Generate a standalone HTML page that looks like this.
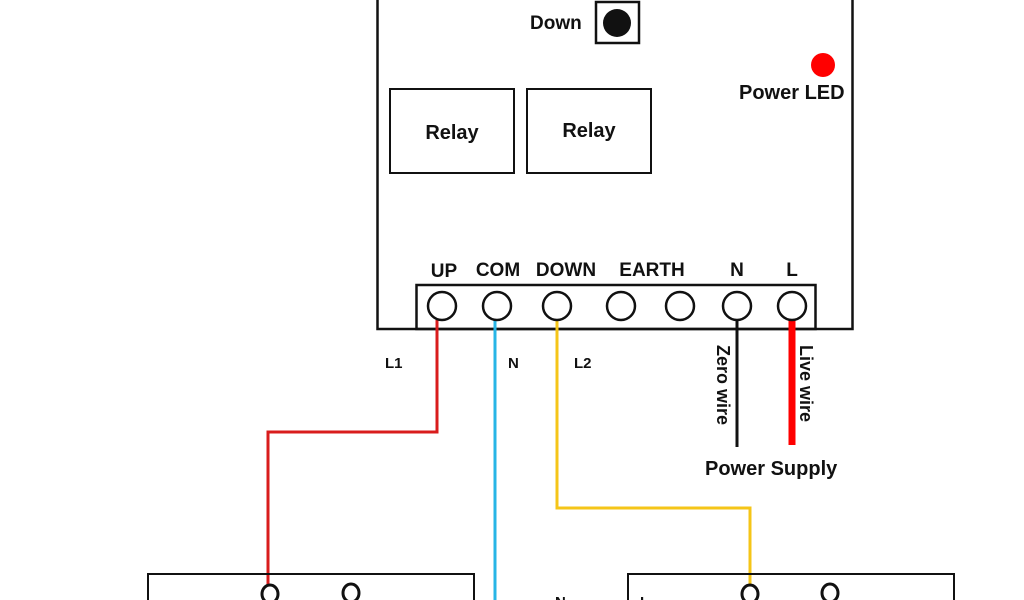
<!DOCTYPE html><html><head><style>body{margin:0;background:#fff}svg{display:block}text{font-family:"Liberation Sans",sans-serif;font-weight:bold;fill:#111}</style></head><body>
<svg width="1024" height="600" viewBox="0 0 1024 600">
<rect x="377.5" y="-5" width="475" height="334" fill="none" stroke="#111" stroke-width="2.5"/>
<text x="530" y="29" font-size="19">Down</text>
<rect x="596" y="2" width="43" height="41" fill="none" stroke="#111" stroke-width="2.5"/>
<circle cx="617" cy="23" r="14" fill="#111"/>
<circle cx="823" cy="65" r="12" fill="#f00"/>
<text x="739" y="99" font-size="20">Power LED</text>
<rect x="390" y="89" width="124" height="84" fill="none" stroke="#111" stroke-width="2"/>
<rect x="527" y="89" width="124" height="84" fill="none" stroke="#111" stroke-width="2"/>
<text x="452" y="139" font-size="20" text-anchor="middle">Relay</text>
<text x="589" y="137" font-size="20" text-anchor="middle">Relay</text>
<g font-size="19" text-anchor="middle">
<text x="444" y="277">UP</text><text x="498" y="276">COM</text><text x="566" y="276">DOWN</text><text x="652" y="276">EARTH</text><text x="737" y="276">N</text><text x="792" y="276">L</text></g>
<rect x="416.5" y="285" width="399" height="44" fill="none" stroke="#111" stroke-width="2.5"/>
<path d="M437 320V432H268V592" fill="none" stroke="#d91c1c" stroke-width="3"/>
<path d="M495 320V600" fill="none" stroke="#27b5e6" stroke-width="3"/>
<path d="M557 320V508H750V585" fill="none" stroke="#f5c518" stroke-width="3"/>
<path d="M737 320V447" stroke="#111" stroke-width="3"/>
<path d="M792 320V445" stroke="#f00" stroke-width="7"/>
<g fill="#fff" stroke="#111" stroke-width="2.5">
<circle cx="442" cy="306" r="14"/><circle cx="497" cy="306" r="14"/><circle cx="557" cy="306" r="14"/><circle cx="621" cy="306" r="14"/><circle cx="680" cy="306" r="14"/><circle cx="737" cy="306" r="14"/><circle cx="792" cy="306" r="14"/></g>
<text x="385" y="368" font-size="15">L1</text><text x="508" y="368" font-size="15">N</text><text x="574" y="368" font-size="15">L2</text>
<text transform="translate(717,345) rotate(90)" font-size="18">Zero wire</text>
<text transform="translate(800,345) rotate(90)" font-size="18">Live wire</text>
<text x="705" y="475" font-size="20">Power Supply</text>
<rect x="148" y="574" width="326" height="40" fill="none" stroke="#111" stroke-width="2"/>
<rect x="628" y="574" width="326" height="40" fill="none" stroke="#111" stroke-width="2"/>
<g fill="#fff" stroke="#111" stroke-width="3">
<ellipse cx="270" cy="594" rx="8" ry="9"/><ellipse cx="351" cy="593" rx="8" ry="9"/><ellipse cx="750" cy="594" rx="8" ry="9"/><ellipse cx="830" cy="593" rx="8" ry="9"/></g>
<text x="555" y="607" font-size="15">N</text><text x="640" y="607" font-size="15">L</text>
</svg></body></html>
